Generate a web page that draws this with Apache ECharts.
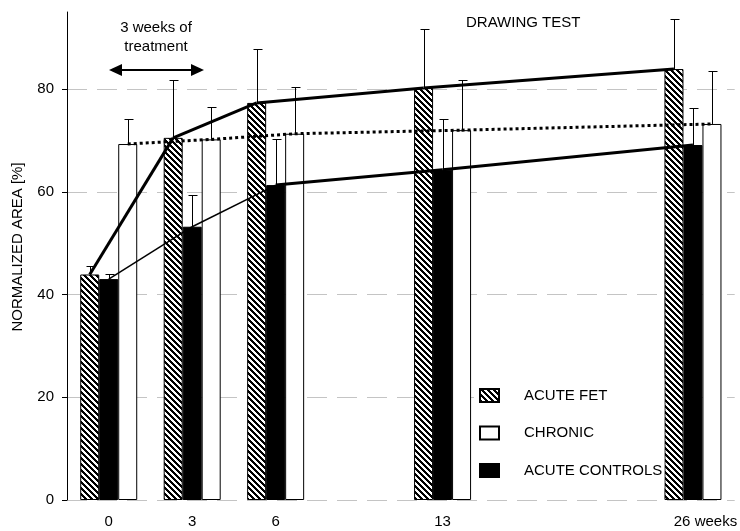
<!DOCTYPE html>
<html>
<head>
<meta charset="utf-8">
<script src="https://cdn.jsdelivr.net/npm/echarts@6/dist/echarts.min.js"></script>
<style>
html,body{margin:0;padding:0;background:#fff;}
#chart{width:740px;height:531px;}
</style>
</head>
<body>
<div id="chart"></div>
<script>
// ---- data (slots with null are empty spacer categories keeping the time spacing) ----
const xLabels      = ['0', '3', '6', '', '13', '', '', '26 weeks'];
const acuteFet     = [43.9, 70.5, 77.3, null, 80.2, null, null, 83.9];
const acuteFetErr  = [1.6, 11.2, 10.4, null, 11.4, null, null, 9.7];
const controls     = [43.0, 53.2, 61.3, null, 64.3, null, null, 69.1];
const controlsErr  = [0.9, 6.1, 8.9, null, 9.8, null, null, 7.3];
const chronic      = [69.3, 70.2, 71.3, null, 72.0, null, null, 73.2];
const chronicErr   = [4.8, 6.3, 9.1, null, 9.7, null, null, 10.3];
const yTicks       = [0, 20, 40, 60, 80];

const FONT = '"Liberation Sans", Arial, sans-serif';
const BAR_W = 19;

// hatch pattern: crisp "\\" diagonal stripes
function hatch() {
  const n = 6;
  const c = document.createElement('canvas');
  c.width = n; c.height = n;
  const g = c.getContext('2d');
  g.fillStyle = '#fff'; g.fillRect(0, 0, n, n);
  g.fillStyle = '#000';
  for (let y = 0; y < n; y++) {
    for (let x = 0; x < n; x++) {
      const d = ((x - y) % n + n) % n;
      if (d < 3) g.fillRect(x, y, 1, 1);
    }
  }
  return c;
}
const hatchColor = { image: hatch(), repeat: 'repeat' };

function pts(vals, extra) {
  const out = [];
  vals.forEach((v, i) => { if (v != null) out.push(extra ? [i, v, extra[i]] : [i, v]); });
  return out;
}

function connector(vals, slotOffset, widthFn, dash) {
  const p = pts(vals);
  return {
    type: 'custom', silent: true, z: 6,
    data: p, encode: { x: 0, y: 1 },
    renderItem(params, api) {
      const i = params.dataIndex;
      if (i >= p.length - 1) return;
      const a = api.coord(p[i]), b = api.coord(p[i + 1]);
      const off = slotOffset * BAR_W;
      return {
        type: 'line',
        shape: { x1: a[0] + off, y1: a[1], x2: b[0] + off, y2: b[1] },
        style: { stroke: '#000', lineWidth: widthFn(i), lineDash: dash || null, lineCap: 'butt' }
      };
    }
  };
}

function errorBars(vals, errs, slotOffset) {
  const p = pts(vals, errs);
  return {
    type: 'custom', silent: true, z: 5,
    data: p, encode: { x: 0, y: [1, 2] },
    renderItem(params, api) {
      const x = api.value(0), v = api.value(1), e = api.value(2);
      const lo = api.coord([x, v]), hi = api.coord([x, v + e]);
      const cx = Math.round(lo[0] + slotOffset * BAR_W) + 0.5;
      const top = Math.round(hi[1]) + 0.5;
      return {
        type: 'group',
        children: [
          { type: 'line', shape: { x1: cx, y1: lo[1], x2: cx, y2: top }, style: { stroke: '#000', lineWidth: 1 } },
          { type: 'line', shape: { x1: cx - 4, y1: top, x2: cx + 5, y2: top }, style: { stroke: '#000', lineWidth: 1 } }
        ]
      };
    }
  };
}

const chart = echarts.init(document.getElementById('chart'), null, { renderer: 'canvas' });

chart.setOption({
  animation: false,
  backgroundColor: '#fff',
  textStyle: { fontFamily: FONT, color: '#000' },
  title: {
    text: 'DRAWING TEST', left: 461, top: 10,
    textStyle: { fontFamily: FONT, fontSize: 15, fontWeight: 'normal', color: '#000' }
  },
  grid: { left: 67, right: 3, top: 12, bottom: 31, containLabel: false },
  legend: {
    orient: 'vertical', left: 474, top: 378,
    padding: [10, 2, 10, 5], backgroundColor: '#fff',
    itemWidth: 19, itemHeight: 13, itemGap: 22.5, icon: 'rect',
    data: ['ACUTE FET', 'CHRONIC', 'ACUTE CONTROLS'],
    textStyle: { fontFamily: FONT, fontSize: 15, color: '#000', padding: [0, 0, 0, 20] },
    selectedMode: false
  },
  xAxis: {
    type: 'category', data: xLabels,
    axisLine: { show: false }, axisTick: { show: false },
    splitLine: { show: false },
    axisLabel: {
      interval: 0, margin: 14, fontFamily: FONT, fontSize: 15, color: '#000',
      formatter: v => v.indexOf('weeks') >= 0 ? '{w|' + v + '}' : v,
      rich: { w: { padding: [0, 0, 0, 25], fontFamily: FONT, fontSize: 15, color: '#000' } }
    }
  },
  yAxis: {
    type: 'value', min: 0, max: 95, interval: 20,
    axisLine: { show: true, lineStyle: { color: '#000', width: 1 } },
    axisTick: { show: true, length: 5, customValues: yTicks, lineStyle: { color: '#000' } },
    axisLabel: { margin: 13, fontFamily: FONT, fontSize: 15, color: '#000', customValues: yTicks },
    splitLine: { show: true, lineStyle: { color: '#c4c4c4', type: [20, 10], width: 1 } }
  },
  graphic: [
    { type: 'text', x: 18, y: 247, rotation: Math.PI / 2,
      style: { text: 'NORMALIZED AREA [%]', font: '15px ' + FONT, fill: '#000', align: 'center', verticalAlign: 'middle' } },
    { type: 'text', x: 156, y: 18,
      style: { text: '3 weeks of\ntreatment', font: '15px ' + FONT, fill: '#000', align: 'center', lineHeight: 19 } },
    { type: 'line', shape: { x1: 120, y1: 70, x2: 192, y2: 70 }, style: { stroke: '#000', lineWidth: 2 } },
    { type: 'polygon', shape: { points: [[109, 70], [122, 64], [122, 76]] }, style: { fill: '#000' } },
    { type: 'polygon', shape: { points: [[204, 70], [191, 64], [191, 76]] }, style: { fill: '#000' } }
  ],
  series: [
    { name: 'ACUTE FET', type: 'bar', data: acuteFet, barWidth: BAR_W, barGap: '0%',
      itemStyle: { color: hatchColor, borderColor: '#000', borderWidth: 1 } },
    { name: 'ACUTE CONTROLS', type: 'bar', data: controls, barWidth: BAR_W, barGap: '0%',
      itemStyle: { color: '#000', borderColor: '#000', borderWidth: 1 } },
    { name: 'CHRONIC', type: 'bar', data: chronic, barWidth: BAR_W, barGap: '0%',
      itemStyle: { color: '#fff', borderColor: '#000', borderWidth: 1 } },
    errorBars(acuteFet, acuteFetErr, -1),
    errorBars(controls, controlsErr, 0),
    errorBars(chronic, chronicErr, 1),
    connector(acuteFet, -1, () => 3),
    connector(chronic, 1, () => 3, [3, 3]),
    connector(controls, 0, i => (i < 2 ? 1.5 : 3))
  ]
});
</script>
</body>
</html>
